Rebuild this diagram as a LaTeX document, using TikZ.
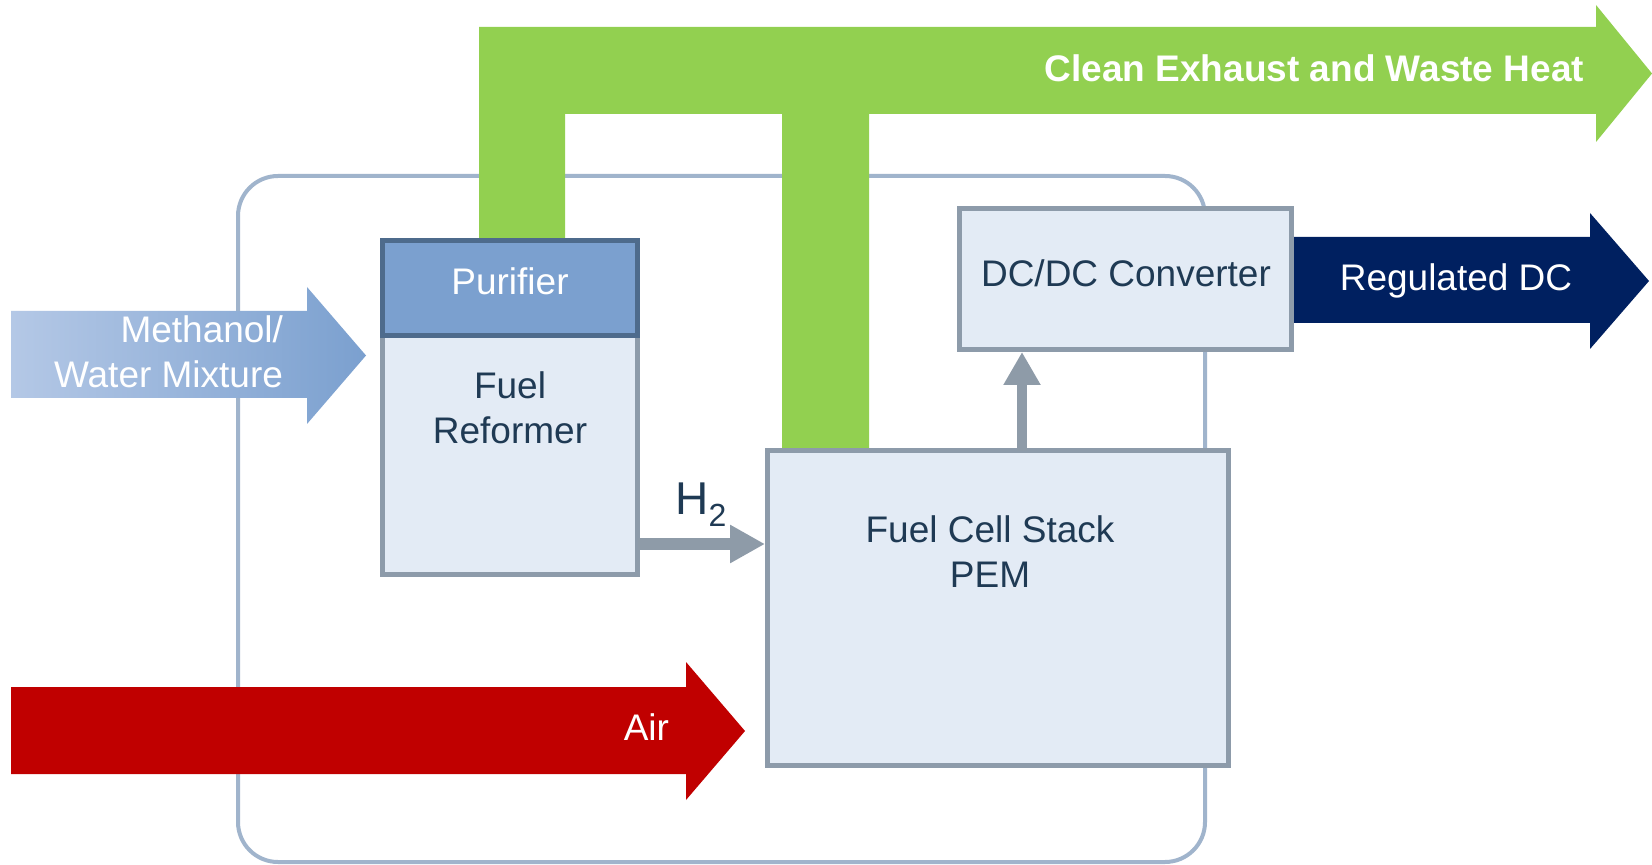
\documentclass[tikz,border=0pt]{standalone}
\usepackage{fontspec}
\setmainfont{Liberation Sans}
\usetikzlibrary{arrows.meta}
\definecolor{exgreen}{HTML}{92D050}
\definecolor{navyblue}{HTML}{002060}
\definecolor{airred}{HTML}{C00000}
\definecolor{purfill}{HTML}{7BA0CF}
\definecolor{purline}{HTML}{4E6B8C}
\definecolor{boxfill}{HTML}{E3EBF5}
\definecolor{boxline}{HTML}{8D9BAA}
\definecolor{arrowgray}{HTML}{8E9BA8}
\definecolor{framecol}{HTML}{A0B4CC}
\definecolor{darktext}{HTML}{1F3A54}
\definecolor{methl}{HTML}{B4C8E6}
\definecolor{methr}{HTML}{7BA0CF}
\begin{document}
\begin{tikzpicture}[x=0.5pt,y=-0.5pt,
  txt/.style={font=\fontsize{18.5}{22.25}\selectfont, inner sep=0pt, outer sep=0pt},
  box/.style={draw=boxline, fill=boxfill, line width=2.5pt, inner sep=0pt, outer sep=0pt},
  h2arrow/.style={draw=arrowgray, line width=6pt, -{Triangle[length=17.5pt,width=18pt]}},
  uparrow/.style={draw=arrowgray, line width=5pt, -{Triangle[length=16.5pt,width=17.5pt]}},
]
\useasboundingbox (0,0) rectangle (1652,865);
\fill[white] (0,0) rectangle (1652,865);
% outer frame
\draw[framecol, line width=2pt, rounded corners=20pt] (238,176) rectangle (1205,862);
% exhaust flow
\fill[exgreen] (479,27) -- (1596,27) -- (1596,5) -- (1652,73.5) -- (1596,142) -- (1596,114)
  -- (869,114) -- (869,448) -- (782,448) -- (782,114) -- (565,114) -- (565,238) -- (479,238) -- cycle;
\node[txt, font=\fontsize{18.5}{22}\selectfont\bfseries, text=white, anchor=base east] (exh) at (1584,82) {Clean Exhaust and Waste Heat};
% methanol inflow
\shade[left color=methl, right color=methr] (11,311) -- (307,311) -- (307,287) -- (366,355.5) -- (307,424) -- (307,398) -- (11,398) -- cycle;
\node[txt, text=white, align=right, anchor=east] (meth) at (283,352) {Methanol/\\Water Mixture};
% air inflow
\fill[airred] (11,687) -- (686,687) -- (686,662) -- (745,731) -- (686,800) -- (686,774) -- (11,774) -- cycle;
\node[txt, text=white, anchor=base east] (air) at (669,740) {Air};
% regulated DC outflow
\fill[navyblue] (1294,237) -- (1590,237) -- (1590,213) -- (1649,281) -- (1590,349) -- (1590,323) -- (1294,323) -- cycle;
\node[txt, text=white, anchor=base] (reg) at (1456,291) {Regulated DC};
% boxes
\node[box, minimum width=127.5pt, minimum height=119.5pt] (ref) at (510,455) {};
\node[box, draw=purline, fill=purfill, minimum width=127.5pt, minimum height=47.5pt] (pur) at (510,288) {};
\node[txt, text=white, anchor=base] (purt) at (510,295) {Purifier};
\node[txt, text=darktext, align=center] (reft) at (510,408) {Fuel\\Reformer};
\node[box, minimum width=230.5pt, minimum height=157.5pt] (stack) at (998,608) {};
\node[txt, text=darktext, align=center] (stackt) at (990,551.5) {Fuel Cell Stack\\PEM};
\node[box, minimum width=166pt, minimum height=70.5pt] (dc) at (1125.5,279) {};
\node[txt, text=darktext, anchor=base] (dct) at (1126,287) {DC/DC Converter};
% connectors
\coordinate (h2y) at (0,544);
\coordinate (upx) at (1022,0);
\draw[h2arrow, shorten >=1.25pt] (ref.east |- h2y) -- (stack.west |- h2y);
\node[inner sep=0pt, text=darktext, anchor=base west, font=\fontsize{23}{23}\selectfont] (h2) at (675,514) {H\raisebox{-6pt}{\fontsize{16}{16}\selectfont 2}};
\draw[uparrow, shorten >=1.25pt] (stack.north -| upx) -- (dc.south -| upx);
\end{tikzpicture}
\end{document}
